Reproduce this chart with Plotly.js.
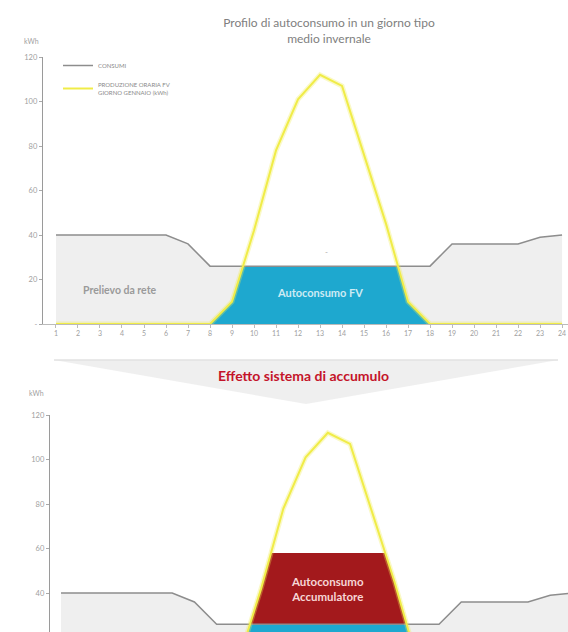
<!DOCTYPE html>
<html>
<head>
<meta charset="utf-8">
<script src="https://cdn.plot.ly/plotly-3.0.1.min.js"></script>
<style>
  html, body { margin: 0; padding: 0; background: #ffffff; }
  #chart { width: 568px; height: 632px; }
</style>
</head>
<body>
<div id="chart"></div>
<script>
// ---- data ----
const hours = [1,2,3,4,5,6,7,8,9,10,11,12,13,14,15,16,17,18,19,20,21,22,23,24];
const consumi = [40,40,40,40,40,40,36,26,26,26,26,26,26,26,26,26,26,26,36,36,36,36,39,40];
const produzione = [0,0,0,0,0,0,0,0,10,42,78,101,112,107,76,45,10,0,0,0,0,0,0,0];
const capacitaAccumulo = 58;
const yTickVals = [0,20,40,60,80,100,120];
const yTickText = ['-','20','40','60','80','100','120'];
const xTickVals = hours;
const nomeConsumi = 'CONSUMI';
const nomeProduzione = 'PRODUZIONE ORARIA FV<br>GIORNO GENNAIO (kWh)';

// lower envelope of two series, with crossing points added
function lowerEnvelope(xs, a, b) {
  const X = [], Y = [];
  for (let i = 0; i < xs.length; i++) {
    X.push(xs[i]); Y.push(Math.min(a[i], b[i]));
    if (i < xs.length - 1) {
      const d0 = a[i] - b[i], d1 = a[i+1] - b[i+1];
      if (d0 * d1 < 0) {
        const t = d0 / (d0 - d1);
        X.push(xs[i] + t * (xs[i+1] - xs[i]));
        Y.push(a[i] + t * (a[i+1] - a[i]));
      }
    }
  }
  return {x: X, y: Y};
}

const capArr = hours.map(() => capacitaAccumulo);
const autoFV = lowerEnvelope(hours, produzione, consumi);
const autoAcc = lowerEnvelope(hours, produzione, capArr);

const GRAY_FILL = '#efefef', GRAY_LINE = '#8d8d8d', BLUE = '#1ea8cf',
      RED = '#a3191c', YEL = '#f0ec48', YEL_HALO = 'rgba(240,236,80,0.32)';

function fillTrace(x, y, color, xa, ya) {
  return {x, y, xaxis: xa, yaxis: ya, type: 'scatter', mode: 'lines',
          fill: 'tozeroy', fillcolor: color, line: {width: 0, color: color},
          showlegend: false, hoverinfo: 'skip'};
}
function lineTrace(x, y, color, w, xa, ya, name, show, group) {
  return {x, y, xaxis: xa, yaxis: ya, type: 'scatter', mode: 'lines', name: name,
          line: {width: w, color: color}, showlegend: show, legendgroup: group, hoverinfo: 'skip'};
}

const data = [
  // top chart
  fillTrace(hours, consumi, GRAY_FILL, 'x', 'y'),
  fillTrace(autoFV.x, autoFV.y, BLUE, 'x', 'y'),
  lineTrace(hours, consumi, GRAY_LINE, 1.5, 'x', 'y', nomeConsumi, true, 'g1'),
  lineTrace(hours, produzione, YEL_HALO, 5, 'x', 'y', 'halo', false, 'g3'),
  lineTrace(hours, produzione, YEL, 2, 'x', 'y', nomeProduzione, true, 'g2'),
  // bottom chart
  fillTrace(hours, consumi, GRAY_FILL, 'x2', 'y2'),
  fillTrace(autoAcc.x, autoAcc.y, RED, 'x2', 'y2'),
  fillTrace(autoFV.x, autoFV.y, BLUE, 'x2', 'y2'),
  lineTrace(hours, consumi, GRAY_LINE, 1.5, 'x2', 'y2', nomeConsumi, false, 'g1'),
  lineTrace(hours, produzione, YEL_HALO, 5, 'x2', 'y2', 'halo', false, 'g3'),
  lineTrace(hours, produzione, YEL, 2, 'x2', 'y2', nomeProduzione, false, 'g2')
];

const W = 568, H = 632;
const px = v => v / W, py = v => 1 - v / H;
const tickFont = {family: 'Lato, "Open Sans", sans-serif', size: 7, color: '#a0a0a0'};

const layout = {
  width: W, height: H,
  margin: {l: 0, r: 0, t: 0, b: 0, pad: 0},
  paper_bgcolor: '#ffffff', plot_bgcolor: 'rgba(0,0,0,0)',
  font: {family: 'Lato, "Open Sans", sans-serif', color: '#888'},
  title: {text: 'Profilo di autoconsumo in un giorno tipo<br>medio invernale',
          x: px(329), y: py(27), xanchor: 'center', yanchor: 'middle',
          font: {family: 'Lato, sans-serif', size: 12, color: '#808080'}},
  xaxis: {domain: [px(43), 1], range: [0.41, 24.27], tickvals: xTickVals,
          ticks: 'outside', ticklen: 3, tickcolor: '#bbb', tickfont: tickFont,
          showline: true, linecolor: '#bbb', linewidth: 1, showgrid: false, zeroline: false,
          anchor: 'y', fixedrange: true},
  yaxis: {domain: [py(324), py(57)], range: [0, 120], tickvals: yTickVals, ticktext: yTickText,
          ticks: 'outside', ticklen: 3, tickcolor: '#aaa', tickfont: {...tickFont, size: 7.5},
          showline: true, linecolor: '#9a9a9a', linewidth: 1.2, showgrid: false, zeroline: false,
          anchor: 'x', fixedrange: true},
  xaxis2: {domain: [px(50), 1], range: [0.505, 23.8], showticklabels: false, ticks: '',
           showline: false, showgrid: false, zeroline: false, anchor: 'y2', fixedrange: true},
  yaxis2: {domain: [0, py(415)], range: [22.5, 120], tickvals: yTickVals, ticktext: yTickText,
           ticks: 'outside', ticklen: 3, tickcolor: '#aaa', tickfont: {...tickFont, size: 7.5},
           showline: true, linecolor: '#9a9a9a', linewidth: 1.2, showgrid: false, zeroline: false,
           anchor: 'x2', fixedrange: true},
  showlegend: true,
  legend: {x: px(58), y: py(51), xanchor: 'left', yanchor: 'top', bgcolor: 'rgba(0,0,0,0)',
           font: {family: 'Lato, sans-serif', size: 6, color: '#8a8a8a'},
           tracegroupgap: 4, traceorder: 'grouped'},
  shapes: [
    {type: 'path', xref: 'paper', yref: 'paper', layer: 'below',
     path: `M ${px(54)},${py(360)} L ${px(558)},${py(360)} L ${px(306)},${py(404)} Z`,
     fillcolor: 'rgba(226,226,226,0.55)', line: {width: 0}},
    {type: 'line', xref: 'paper', yref: 'paper', layer: 'below',
     x0: px(54), x1: px(558), y0: py(360), y1: py(360),
     line: {color: '#e2e2e2', width: 1.5}}
  ],
  annotations: [
    {text: 'kWh', xref: 'paper', yref: 'paper', x: px(22), y: py(35), showarrow: false,
     font: {size: 7, color: '#a0a0a0'}},
    {text: 'kWh', xref: 'paper', yref: 'paper', x: px(27), y: py(393), showarrow: false,
     font: {size: 7, color: '#a0a0a0'}},
    {text: '<b>Prelievo da rete</b>', xref: 'x', yref: 'y', x: 3.9, y: 15.5, showarrow: false,
     font: {family: 'Lato, sans-serif', size: 10.5, color: '#9a9a9a'}},
    {text: '<b>Autoconsumo FV</b>', xref: 'x', yref: 'y', x: 13, y: 14.3, showarrow: false,
     font: {family: 'Lato, sans-serif', size: 11, color: '#cdebf4'}},
    {text: '-', xref: 'x', yref: 'y', x: 13.3, y: 32.5, showarrow: false,
     font: {size: 8, color: '#aaa'}},
    {text: '<b>Effetto sistema di accumulo</b>', xref: 'paper', yref: 'paper',
     x: px(303), y: py(376), showarrow: false,
     font: {family: 'Lato, sans-serif', size: 14, color: '#c4142a'}},
    {text: '<b>Autoconsumo<br>Accumulatore</b>', xref: 'x2', yref: 'y2', x: 13, y: 42,
     showarrow: false,
     font: {family: 'Lato, sans-serif', size: 11.5, color: '#f6d6d6'}}
  ]
};

Plotly.newPlot('chart', data, layout, {displayModeBar: false, staticPlot: true});
</script>
</body>
</html>
